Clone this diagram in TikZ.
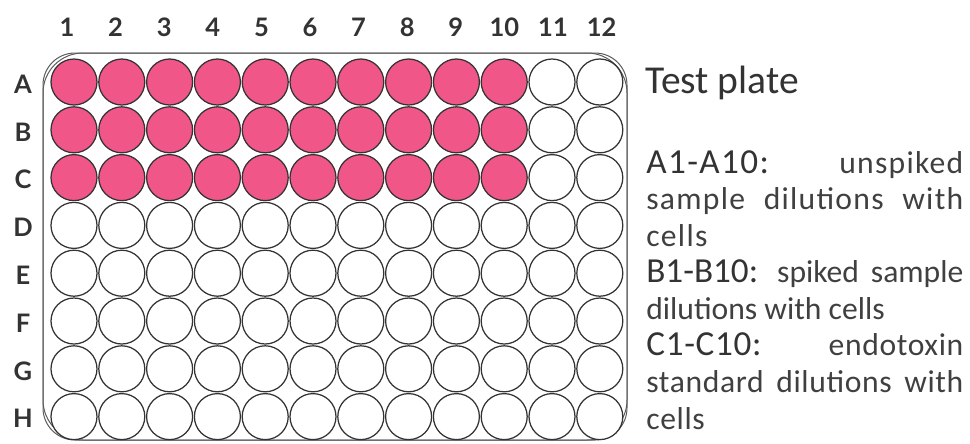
\documentclass[tikz,border=0pt]{standalone}
\usepackage{fontspec}
\setmainfont{Carlito}
\newfontfamily\labelfont{Lato}
\usepackage{xcolor}
\usetikzlibrary{positioning}
\definecolor{wellpink}{RGB}{240,86,135}
\definecolor{inkgray}{RGB}{51,51,51}
\definecolor{textgray}{RGB}{64,64,64}
\newcommand{\wellcode}[1]{{\fontsize{20}{20.8}\selectfont\color{inkgray}#1}}
\newcommand{\spread}[1]{\addfontfeature{LetterSpace=#1}}

\begin{document}
\begin{tikzpicture}[x=0.2mm, y=-0.2mm, well/.style={draw=inkgray, line width=0.25mm, circle, minimum size=9.2mm, inner sep=0pt}, lbl/.style={font=\labelfont\bfseries\fontsize{14.5}{15}\selectfont, text=inkgray}, notes/.style={text width=63.4mm, align=justify, inner sep=0pt, text=textgray, font=\fontsize{18}{20.8}\selectfont}]
\useasboundingbox (0,0) rectangle (970,443);
\draw[inkgray!80, line width=0.2mm, rounded corners=8mm] (43,53) rectangle (627,440);
\draw[inkgray!80, line width=0.2mm, rounded corners=6.4mm] (43,53) rectangle (627,440);
\foreach \c in {1,...,12} \node[lbl] (col-\c) at (67+48.6*\c-48.6,27) {\c};
\foreach \row [count=\r] in {A,...,H} {
  \node[lbl] (row-\row) at (23,84+47.8*\r-47.8) {\row};
  \foreach \c in {1,...,12} {
    \ifnum\r<4 \ifnum\c<11 \def\wfill{wellpink}\else\def\wfill{white}\fi\else\def\wfill{white}\fi
    \node[well, fill=\wfill] (w-\row\c) at (74+47.8*\c-47.8,82+47.8*\r-47.8) {};
  }
}
\node[anchor=base west, inner sep=0pt, text=inkgray, font=\fontsize{22.5}{26}\selectfont] (title) at (645,93) {Test plate};
\node[notes, anchor=north west] (legend) at (646,150) {{\spread{4}\wellcode{A1-A10:} unspiked\linebreak sample dilutions with\linebreak cells\par}
\wellcode{B1-B10:} spiked sample\linebreak dilutions with cells\par
{\spread{2}\wellcode{C1-C10:} endotoxin\linebreak standard dilutions with\linebreak cells\par}};
\end{tikzpicture}
\end{document}
